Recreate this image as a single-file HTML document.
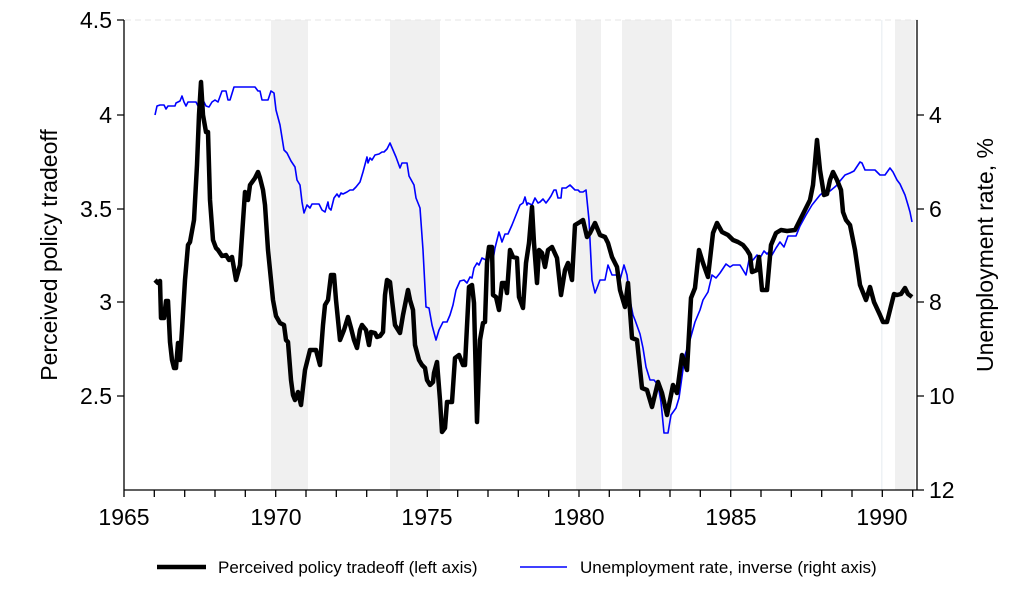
<!DOCTYPE html>
<html><head><meta charset="utf-8"><style>body{margin:0;background:#fff}svg{display:block;font-family:"Liberation Sans",Arial,sans-serif}</style></head><body>
<svg width="1024" height="615" viewBox="0 0 1024 615" xmlns="http://www.w3.org/2000/svg">
<g fill="#f0f0f0">
<rect x="271" y="20" width="37" height="470"/>
<rect x="390" y="20" width="50" height="470"/>
<rect x="576" y="20" width="25" height="470"/>
<rect x="622" y="20" width="50" height="470"/>
<rect x="730" y="20" width="1.5" height="470" fill="#eef2f5"/>
<rect x="881" y="20" width="1.5" height="470" fill="#eef2f5"/>
<rect x="895" y="20" width="20" height="470"/>
</g>
<line x1="125" y1="20" x2="918" y2="20" stroke="#e6e6e6" stroke-dasharray="6,4"/>
<polyline fill="none" stroke="#0000ff" stroke-width="1.6" stroke-linejoin="round" points="155,115 157,106 160,105 164,105 166,109 168,106 172,106 175,106 176,103 180,101 182,96 184,102 186,106 188,102 192,102 196,102 198,106 201,103 204,102 206,106 209,107 212,102 215,100 218,102 222,91 226,91 228,100 230,100 234,87 236,87 240,87 255,87 258,91 260,91 262,100 268,100 271,91 274,93 276,110 280,125 284,150 287,153 291,161 295,167 297,180 300,185 302,202 304,213 307,205 310,208 312,204 319,204 322,210 325,212 328,202 329,208 331,210 334,198 337,194 339,197 341,193 343,194 347,192 350,190 353,190 356,187 360,182 363,172 367,157 368,163 370,158 372,160 375,155 379,154 382,152 384,152 387,149 390,143 393,150 396,157 400,168 402,163 407,163 409,176 414,185 416,198 420,208 423,250 426,307 429,308 432,325 436,340 439,330 443,322 447,322 450,315 453,305 456,290 460,281 464,280 467,283 470,277 472,278 474,268 477,263 479,265 482,258 486,260 490,255 493,260 495,248 499,232 502,242 505,234 508,234 512,225 514,220 518,210 520,205 523,203 525,197 527,205 528,203 532,205 535,198 538,203 540,202 543,199 546,203 549,199 551,196 554,190 556,190 558,198 561,198 562,188 566,188 570,185 575,190 578,190 580,192 583,192 586,190 587,200 589,220 592,280 595,293 597,288 600,280 605,280 608,265 612,275 618,275 620,280 624,265 627,275 630,300 633,315 635,320 640,334 643,348 646,367 650,380 654,380 658,385 661,402 664,433 668,433 671,415 676,408 679,398 685,355 690,340 695,322 700,310 703,300 708,292 712,275 716,278 720,273 726,264 730,267 733,265 740,265 746,275 749,260 753,260 757,255 760,258 764,251 767,254 769,252 772,255 776,248 780,242 784,247 788,236 790,236 796,236 800,226 806,215 812,205 816,200 820,195 825,191 830,191 836,186 840,181 845,175 850,173 854,171 858,165 860,162 862,163 865,170 870,170 875,170 880,175 885,175 890,168 893,172 897,180 900,184 905,195 908,205 910,212 912,222"/>
<polyline fill="none" stroke="#000" stroke-width="4.5" stroke-linejoin="round" points="155,280 158,283 160,281 161,318 164,318 166,301 168,301 170,342 172,360 174,368 176,368 178,343 180,360 182,330 185,280 188,245 190,242 194,220 197,165 199,115 201,82 203,115 206,132 208,132 210,200 213,240 216,248 218,250 222,256 226,255 229,260 232,257 236,280 240,265 245,192 248,200 250,185 255,178 258,172 260,178 263,190 265,205 268,250 273,300 276,316 280,323 284,325 286,340 288,342 291,380 293,395 295,400 298,392 301,405 305,370 310,350 316,350 320,365 323,325 325,305 328,300 331,275 334,275 336,300 340,340 344,330 348,317 351,328 354,340 357,348 360,330 362,325 366,330 369,345 371,332 375,333 377,337 380,336 383,332 385,295 387,280 390,282 392,300 395,325 400,333 403,315 408,290 410,300 413,310 415,345 419,360 422,365 425,368 427,380 430,385 433,382 434,373 437,362 440,400 442,432 445,428 447,402 452,402 455,358 459,355 463,365 465,365 469,287 472,285 474,303 477,422 480,340 483,323 485,322 487,263 489,247 492,247 493,295 496,297 499,310 502,283 505,283 507,293 510,250 513,257 517,258 519,297 523,308 526,263 529,243 532,207 534,243 537,283 539,250 542,253 545,267 548,250 552,247 557,258 561,295 565,270 568,263 572,280 575,225 580,222 583,220 587,237 590,233 595,223 600,235 605,237 608,243 612,257 617,267 620,290 625,307 628,283 632,338 637,340 642,388 647,390 652,407 658,382 662,393 667,415 673,385 677,393 682,355 687,370 691,298 695,288 699,250 703,263 708,277 713,233 717,223 722,232 728,235 733,240 738,242 743,245 747,250 750,255 752,272 757,270 759,257 762,290 767,290 771,245 776,233 781,230 787,231 795,230 800,220 805,210 810,200 813,185 817,140 820,170 824,195 827,194 830,180 833,172 837,180 841,190 843,212 846,220 850,225 855,250 860,285 866,300 870,287 874,302 880,315 883,322 887,322 890,310 894,294 897,295 901,294 905,288 908,294 912,297"/>
<g stroke="#000" stroke-width="1.3" fill="none">
<line x1="124" y1="20" x2="124" y2="490"/>
<line x1="124" y1="490" x2="917" y2="490"/>
<line x1="917" y1="20" x2="917" y2="490"/>
<path d="M117,20H124M117,115H124M117,209H124M117,302H124M117,396H124M917,115H924M917,209H924M917,302H924M917,396H924M917,490H924"/>
<path d="M124,490v7M154.3,490v7M184.7,490v7M215,490v7M245.3,490v7M275.7,490v7M306,490v7M336.3,490v7M366.7,490v7M397,490v7M427.3,490v7M457.7,490v7M488,490v7M518.3,490v7M548.7,490v7M579,490v7M609.3,490v7M639.7,490v7M670,490v7M700.3,490v7M730.7,490v7M761,490v7M791.3,490v7M821.7,490v7M852,490v7M882.3,490v7M912.7,490v7"/>
</g>
<g font-size="23" fill="#000">
<g text-anchor="end"><text x="112" y="28">4.5</text><text x="112" y="123">4</text><text x="112" y="217">3.5</text><text x="112" y="310">3</text><text x="112" y="404">2.5</text></g>
<g text-anchor="start"><text x="929" y="123">4</text><text x="929" y="217">6</text><text x="929" y="310">8</text><text x="929" y="404">10</text><text x="929" y="498">12</text></g>
<g text-anchor="middle"><text x="124" y="525">1965</text><text x="276" y="525">1970</text><text x="427" y="525">1975</text><text x="579" y="525">1980</text><text x="731" y="525">1985</text><text x="882" y="525">1990</text></g>
<text transform="translate(57,255) rotate(-90)" text-anchor="middle">Perceived policy tradeoff</text>
<text transform="translate(993,255) rotate(-90)" text-anchor="middle">Unemployment rate, %</text>
</g>
<line x1="157" y1="567" x2="206" y2="567" stroke="#000" stroke-width="4.5"/>
<text x="218" y="573" font-size="17">Perceived policy tradeoff (left axis)</text>
<line x1="520" y1="567" x2="567" y2="567" stroke="#0000ff" stroke-width="1.6"/>
<text x="580" y="573" font-size="17">Unemployment rate, inverse (right axis)</text>
</svg>
</body></html>
